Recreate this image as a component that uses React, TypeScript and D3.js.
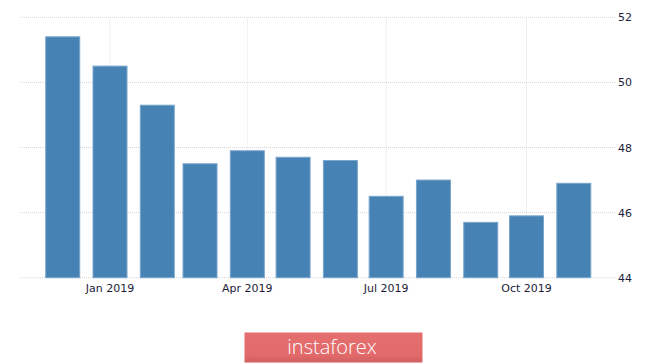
import React from "react";
import * as d3 from "d3";

const months: string[] = [
  "2018-12-01", "2019-01-01", "2019-02-01", "2019-03-01", "2019-04-01", "2019-05-01",
  "2019-06-01", "2019-07-01", "2019-08-01", "2019-09-01", "2019-10-01", "2019-11-01",
];
const values: number[] = [51.4, 50.5, 49.3, 47.5, 47.9, 47.7, 47.6, 46.5, 47.0, 45.7, 45.9, 46.9];
const yTicks: number[] = [44, 46, 48, 50, 52];
const xTickDates: string[] = ["2019-01-01", "2019-04-01", "2019-07-01", "2019-10-01"];
const xTickLabels: string[] = ["Jan 2019", "Apr 2019", "Jul 2019", "Oct 2019"];

const W = 665;
const H = 363;

export default function App() {
  const parse = d3.utcParse("%Y-%m-%d");
  const x = d3
    .scaleUtc()
    .domain([parse("2018-11-03")!, parse("2019-11-28")!])
    .range([20, 615]);
  const y = d3.scaleLinear().domain([44, 52]).range([277.7, 17.3]);
  const barW = 34;
  const font = "Tahoma, 'DejaVu Sans', Verdana, sans-serif";

  return (
    <svg
      width={W}
      height={H}
      style={{ position: "absolute", left: 0, top: 0, background: "#fff" }}
    >
      {/* vertical grid */}
      {xTickDates.map((d, i) => (
        <line
          key={"vg" + i}
          x1={x(parse(d)!)}
          x2={x(parse(d)!)}
          y1={y(52)}
          y2={y(44)}
          stroke="#e2e2e2"
          strokeWidth={1}
          strokeDasharray="1,1"
        />
      ))}
      {/* horizontal grid */}
      {yTicks.map((t) => (
        <line
          key={"hg" + t}
          x1={20}
          x2={615}
          y1={y(t)}
          y2={y(t)}
          stroke="#d6d6d6"
          strokeWidth={1}
          strokeDasharray="1,1"
        />
      ))}
      {/* bars */}
      {months.map((m, i) => {
        const cx = x(parse(m)!);
        return (
          <rect
            key={"b" + i}
            x={cx - barW / 2}
            y={y(values[i])}
            width={barW}
            height={y(44) - y(values[i])}
            fill="#4682b4"
            stroke="#7aa6cc"
            strokeWidth={1}
          />
        );
      })}
      {/* y labels */}
      {yTicks.map((t) => (
        <text
          key={"yl" + t}
          x={618}
          y={y(t) + 4}
          fontFamily={font}
          fontSize={11}
          fill="#1c1c3a"
        >
          {t}
        </text>
      ))}
      {/* x labels */}
      {xTickDates.map((d, i) => (
        <text
          key={"xl" + i}
          x={x(parse(d)!)}
          y={292}
          textAnchor="middle"
          fontFamily={font}
          fontSize={11}
          fill="#1c1c3a"
        >
          {xTickLabels[i]}
        </text>
      ))}
      {/* instaforex badge */}
      <defs>
        <linearGradient id="badge" x1="0" y1="0" x2="0" y2="1">
          <stop offset="0" stopColor="#e46e6e" />
          <stop offset="0.75" stopColor="#e36a6a" />
          <stop offset="1" stopColor="#cf5f60" />
        </linearGradient>
      </defs>
      <rect x={244.5} y={332.5} width={178} height={30} fill="url(#badge)" />
      <text
        x={332}
        y={354}
        textAnchor="middle"
        fontFamily="'Open Sans', sans-serif"
        fontWeight={300}
        fontSize={20}
        fill="#fff"
      >
        instaforex
      </text>
    </svg>
  );
}
